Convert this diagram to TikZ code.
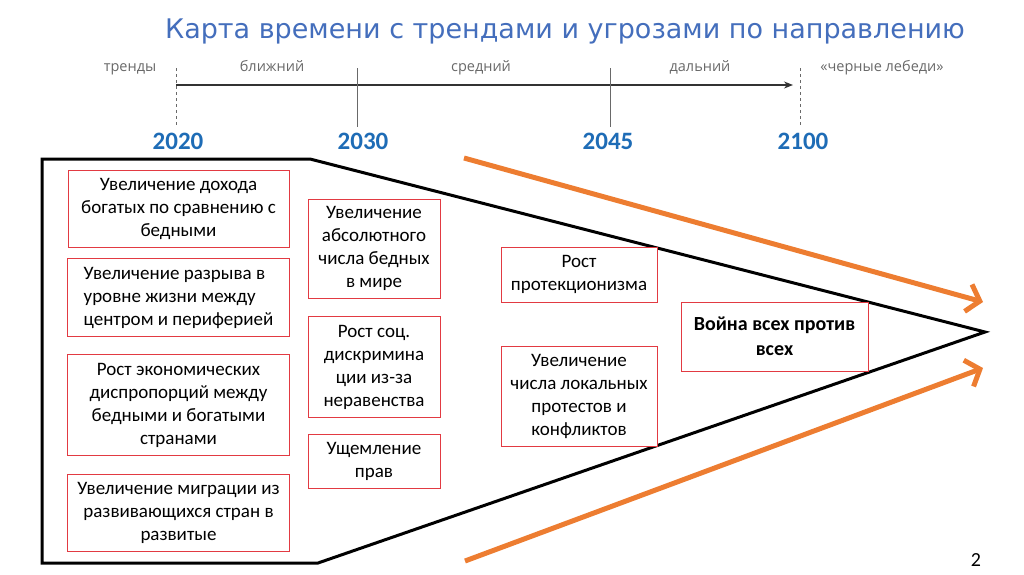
\documentclass[tikz,border=0pt]{standalone}
\usepackage{fontspec}
\setmainfont{Carlito}
\newfontfamily\titlefont{DejaVu Sans}
\newfontfamily\periodfont{Open Sans}
\usetikzlibrary{arrows.meta,positioning}
\definecolor{titleblue}{RGB}{68,110,188}
\definecolor{yearblue}{RGB}{30,108,182}
\definecolor{boxred}{RGB}{226,58,66}
\definecolor{threatorange}{RGB}{237,125,49}
\definecolor{scalegray}{RGB}{105,105,105}

\begin{document}
\begin{tikzpicture}
    [x=1pt, y=-1pt,
     trend/.style={draw=boxred, line width=0.9pt, fill=white, align=center, inner sep=2pt,
                   font=\fontsize{19}{23}\selectfont},
     year/.style={text=yearblue, font=\fontsize{25}{30}\selectfont\bfseries},
     period/.style={anchor=base, text=scalegray, font=\periodfont\fontsize{14.5}{17}\selectfont},
     threat/.style={-{Straight Barb[length=12pt,width=28pt]}, threatorange, line width=5pt}]
    \useasboundingbox (0,0) rectangle (1024,574);

    \node[text=titleblue, font=\titlefont\fontsize{27}{32}\selectfont] (title) at (565,31)
        {Карта времени с трендами и угрозами по направлению};

    % timeline
    \coordinate (now) at (176,85);
    \coordinate (far) at (793,85);
    \draw[-{Stealth[length=9pt,width=7pt]}, black!80, line width=1.2pt] (now) -- (far);
    \draw[dashed, scalegray, line width=0.9pt] (176,68) -- (176,127);
    \draw[dashed, scalegray, line width=0.9pt] (800,68) -- (800,127);
    \draw[scalegray, line width=0.9pt] (357,68) -- (357,127);
    \draw[scalegray, line width=0.9pt] (610,68) -- (610,127);

    \node[period] (p0) at (130,71) {тренды};
    \node[period] (p1) at (272,71) {ближний};
    \node[period] (p2) at (481,71) {средний};
    \node[period] (p3) at (700,71) {дальний};
    \node[period] (p4) at (882,71) {«черные лебеди»};

    \node[year] (y2020) at (178,141) {2020};
    \node[year] (y2030) at (363,141) {2030};
    \node[year] (y2045) at (608,141) {2045};
    \node[year] (y2100) at (803,141) {2100};

    % funnel
    \coordinate (tip) at (985,332);
    \draw[line width=3pt, line join=miter] (310,159) -- (42,159) -- (42,563) -- (318,563) -- (tip) -- cycle;

    \coordinate (up) at (464,158);
    \coordinate (upend) at (983,302);
    \coordinate (down) at (465,561);
    \coordinate (downend) at (983,368);
    \draw[threat] (up) -- (upend);
    \draw[threat] (down) -- (downend);

    % trends
    \node[trend, minimum width=221pt, minimum height=77pt] (inc) at (178.5,208.5)
        {Увеличение дохода\\богатых по сравнению с\\бедными};
    \node[trend, minimum width=222pt, minimum height=78pt, align=left, below=11pt of inc] (gap)
        {Увеличение разрыва в\\уровне жизни между\\центром и периферией};
    \node[trend, minimum width=222pt, minimum height=101pt, below=17pt of gap] (disp)
        {Рост экономических\\диспропорций между\\бедными и богатыми\\странами};
    \node[trend, minimum width=222pt, minimum height=77pt, below=18pt of disp] (migr)
        {Увеличение миграции из\\развивающихся стран в\\развитые};

    \node[trend, minimum width=132pt, minimum height=99pt] (poor) at (374,248.5)
        {Увеличение\\абсолютного\\числа бедных\\в мире};
    \node[trend, minimum width=132pt, minimum height=101pt, below=18pt of poor] (disc)
        {Рост соц.\\дискримина\\ции из-за\\неравенства};
    \node[trend, minimum width=132pt, minimum height=54pt, below=16pt of disc] (rights)
        {Ущемление\\прав};

    \node[trend, minimum width=156pt, minimum height=55pt] (prot) at (579,274.5)
        {Рост\\протекционизма};
    \node[trend, minimum width=156pt, minimum height=100pt, below=44pt of prot] (confl)
        {Увеличение\\числа локальных\\протестов и\\конфликтов};

    \node[trend, minimum width=187pt, minimum height=69pt, font=\fontsize{20}{25}\selectfont\bfseries]
        (war) at (774.5,336.5) {Война всех против\\всех};

    \node[font=\fontsize{20}{24}\selectfont] (page) at (976,560) {2};
\end{tikzpicture}
\end{document}
